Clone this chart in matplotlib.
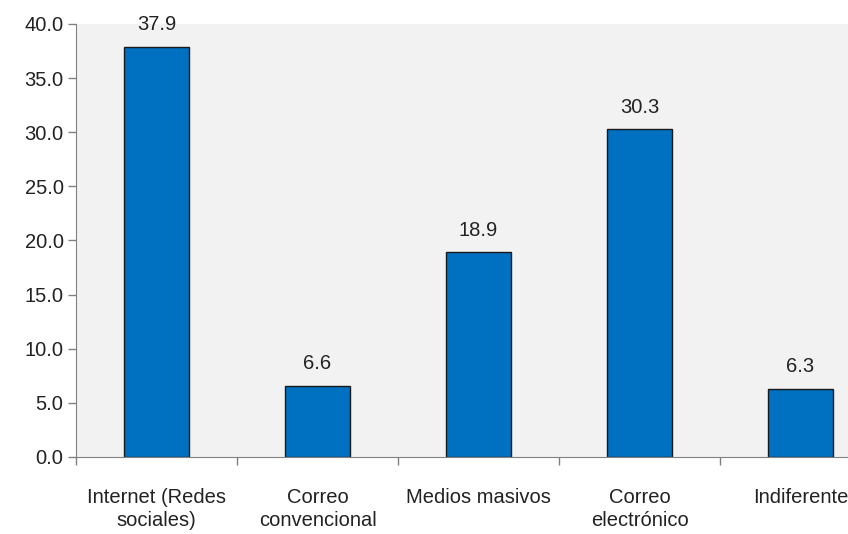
import matplotlib.pyplot as plt
import numpy as np

categories = ['Internet (Redes\nsociales)', 'Correo\nconvencional', 'Medios masivos',
              'Correo\nelectrónico', 'Indiferente']
values = [37.9, 6.6, 18.9, 30.3, 6.3]

plt.rcParams['font.family'] = ['Liberation Sans Narrow', 'Liberation Sans', 'DejaVu Sans']

fig = plt.figure(figsize=(8.48, 5.34), dpi=100)
# axes runs past the right edge of the figure, like the reference crop
ax = fig.add_axes([76 / 848, 77 / 534, 805 / 848, 433 / 534])
ax.set_facecolor('#F2F2F2')

x = np.arange(len(values))
bars = ax.bar(x, values, width=0.4, color='#0070C0', edgecolor='#1a1a1a', linewidth=1)

for xi, v in zip(x, values):
    ax.annotate(f'{v:.1f}', (xi, v), xytext=(0, 9), textcoords='offset points',
                ha='center', va='bottom', fontsize=14.5, color='#222222')

ax.set_xlim(-0.5, len(values) - 0.5)
ax.set_ylim(0, 40)
ax.set_yticks(np.arange(0, 40.1, 5))
ax.set_yticklabels([f'{t:.1f}' for t in np.arange(0, 40.1, 5)])

# category labels centred, tick marks between categories
ax.set_xticks(x)
ax.set_xticklabels(categories, linespacing=1.32)
ax.tick_params(axis='x', which='major', length=0, pad=22, labelsize=14.5, labelcolor='#222222')
ax.set_xticks(np.arange(-0.5, len(values), 1), minor=True)
ax.tick_params(axis='x', which='minor', length=6, color='#808080', width=1)
ax.tick_params(axis='y', length=6, color='#808080', width=1, labelsize=14.5,
               labelcolor='#222222', pad=3)

for s in ['top', 'right']:
    ax.spines[s].set_visible(False)
for s in ['left', 'bottom']:
    ax.spines[s].set_color('#808080')

fig.savefig('out.png', dpi=100)
